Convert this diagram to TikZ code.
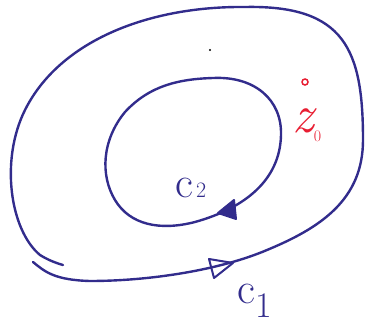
\documentclass[tikz,border=0pt]{standalone}
\definecolor{ink}{RGB}{50,44,140}
\definecolor{redink}{RGB}{232,30,50}
\begin{document}
\begin{tikzpicture}[x=1pt,y=-1pt,
  curve/.style={ink, line width=2.4pt, line cap=round, line join=round},
  arrowtri/.style={ink, line width=2pt, line join=round},
  lbl/.style={ink, inner sep=0pt, anchor=base west},
  zlbl/.style={redink, inner sep=0pt, anchor=base west},
  zpoint/.style={draw=redink, circle, inner sep=0pt, minimum size=6pt, line width=1.5pt},
  speck/.style={fill=black, circle, inner sep=0pt, minimum size=2.4pt}]
\useasboundingbox (0,0) rectangle (369,324);
% outer contour C1
\draw[curve] (33,262) .. controls (45,272) and (55,280) .. (90,281)
  .. controls (150,281) and (220,270) .. (267,250)
  .. controls (320,228) and (363,200) .. (363,140)
  .. controls (363,50) and (345,5) .. (245,7)
  .. controls (150,6) and (60,40) .. (25,110)
  .. controls (0,160) and (10,230) .. (40,255)
  .. controls (48,260) and (56,263) .. (63,265);
% inner contour C2
\draw[curve] (213,78) .. controls (255,76) and (282,100) .. (281,135)
  .. controls (280,180) and (245,208) .. (195,222)
  .. controls (160,231) and (130,225) .. (115,200)
  .. controls (100,175) and (102,140) .. (125,112)
  .. controls (150,85) and (180,79) .. cycle;
% arrowheads
\draw[arrowtri] (209,259) -- (233,263) -- (214,278) -- cycle;
\filldraw[arrowtri] (234,200) -- (218,213) -- (236,219) -- cycle;
% labels
\node[lbl] (c2) at (175,197) {\fontsize{44}{44}\selectfont c\hspace{3pt}\fontsize{22}{22}\selectfont 2};
\node[lbl] (c1) at (237,303) {\fontsize{44}{44}\selectfont c\hspace{0pt}\raisebox{-14pt}{\fontsize{36}{36}\selectfont 1}};
\node[zpoint] (z0pt) at (305,82) {};
\node[zlbl] (z0) at (292,132) {\fontsize{54}{54}\selectfont\itshape z\raisebox{-9pt}{\fontsize{16}{16}\selectfont\upshape 0}};
\node[speck] (dot) at (210,50) {};
\end{tikzpicture}
\end{document}
